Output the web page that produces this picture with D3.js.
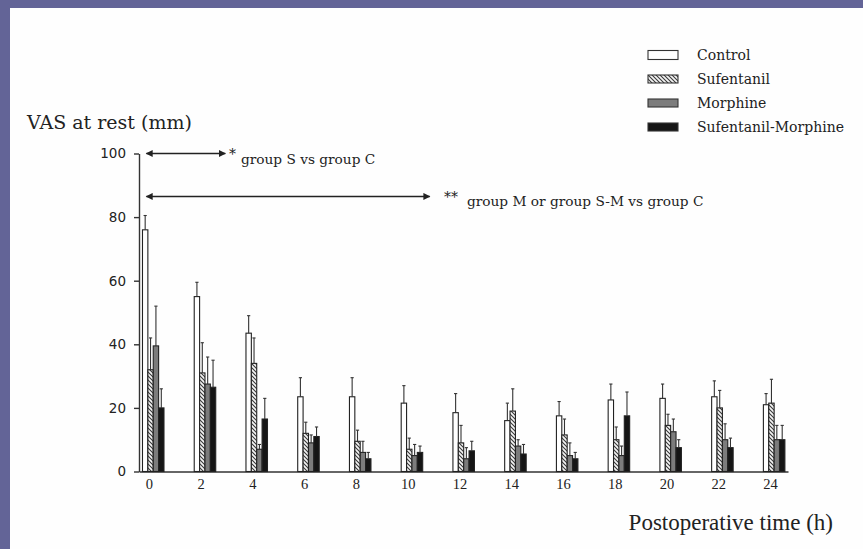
<!DOCTYPE html>
<html>
<head>
<meta charset="utf-8">
<script src="https://cdn.jsdelivr.net/npm/d3@7/dist/d3.min.js"></script>
<style>
  html, body { margin: 0; padding: 0; background: #636497; }
  svg { display: block; }
</style>
</head>
<body>
<svg id="chart" width="863" height="549"></svg>
<script>
// Postoperative hours at which VAS was recorded
const hours = [0, 2, 4, 6, 8, 10, 12, 14, 16, 18, 20, 22, 24];
const tickLabelsY = [0, 20, 40, 60, 80, 100];
const seriesNames = ["Control", "Sufentanil", "Morphine", "Sufentanil-Morphine"];

// Mean VAS at rest (mm) per group
const control    = [76, 55, 43.5, 23.5, 23.5, 21.5, 18.5, 16, 17.5, 22.5, 23, 23.5, 21];
const sufentanil = [32, 31, 34, 12, 9.5, 7, 9, 19, 11.5, 10, 14.5, 20, 21.5];
const morphine   = [39.5, 27.5, 7, 9, 6, 5, 4, 8, 5, 5, 12.5, 10, 10];
const sufMorph   = [20, 26.5, 16.5, 11, 4, 6, 6.5, 5.5, 4, 17.5, 7.5, 7.5, 10];

// Standard deviations (upper whisker only)
const controlSD    = [4.5, 4.5, 5.5, 6, 6, 5.5, 6, 5.5, 4.5, 5, 4.5, 5, 3.5];
const sufentanilSD = [10, 9.5, 8, 3.5, 3.5, 3.5, 5.5, 7, 5, 4, 3.5, 5.5, 7.5];
const morphineSD   = [12.5, 8.5, 1.5, 2.5, 3.5, 3.5, 3.5, 2, 4, 3, 4, 5, 4.5];
const sufMorphSD   = [6, 8.5, 6.5, 3, 2, 2, 3, 3, 2, 7.5, 2.5, 3, 4.5];

const means = [control, sufentanil, morphine, sufMorph];
const sds = [controlSD, sufentanilSD, morphineSD, sufMorphSD];

const rows = [];
hours.forEach((h, i) => {
  seriesNames.forEach((s, k) => {
    rows.push({ hour: h, series: s, k, value: means[k][i], sd: sds[k][i] });
  });
});

const svg = d3.select("#chart");

// white page panel inside the coloured frame
svg.append("rect").attr("x", 10).attr("y", 8).attr("width", 853).attr("height", 541).attr("fill", "#fefefe");

// patterns
const defs = svg.append("defs");
const hatch = defs.append("pattern")
  .attr("id", "hatch").attr("patternUnits", "userSpaceOnUse")
  .attr("width", 4).attr("height", 4);
hatch.append("rect").attr("width", 4).attr("height", 4).attr("fill", "#f4f4f4");
hatch.append("path").attr("d", "M-1,-1 L5,5 M-1,3 L1,5 M3,-1 L5,1")
  .attr("stroke", "#3a3a3a").attr("stroke-width", 1.1);

const fills = {
  "Control": "#ffffff",
  "Sufentanil": "url(#hatch)",
  "Morphine": "#7c7c7c",
  "Sufentanil-Morphine": "#151515"
};

const serif = "'DejaVu Serif', serif";
const timesLike = "'Liberation Serif', 'Times New Roman', serif";

// Scales
const x = d3.scaleLinear().domain([-0.386, 24.7]).range([139, 788]);
const y = d3.scaleLinear().domain([0, 100]).range([471.5, 153.5]);
const inner = d3.scaleBand().domain(seriesNames).range([-6.5, 15]).padding(0);

// Y axis
const yAxis = svg.append("g")
  .attr("transform", "translate(139,0)")
  .call(d3.axisLeft(y).tickValues(tickLabelsY).tickSize(5).tickSizeOuter(0).tickPadding(8));
yAxis.selectAll("path, line").attr("stroke", "#333").attr("stroke-width", 1.4);
yAxis.selectAll("text").attr("font-family", "'DejaVu Sans', sans-serif").attr("font-size", 13.5).attr("fill", "#222");

// X axis
const xAxis = svg.append("g")
  .attr("transform", "translate(0,471.5)")
  .call(d3.axisBottom(x).tickValues(hours).tickSize(0).tickSizeOuter(0).tickPadding(7));
xAxis.selectAll("path").attr("stroke", "#333").attr("stroke-width", 1.4);
xAxis.selectAll("text").attr("font-family", timesLike).attr("font-size", 14.5).attr("fill", "#222");

// Bars
const bars = svg.append("g");
bars.selectAll("rect").data(rows).join("rect")
  .attr("x", d => x(d.hour) + inner(d.series))
  .attr("y", d => y(d.value))
  .attr("width", inner.bandwidth())
  .attr("height", d => y(0) - y(d.value))
  .attr("fill", d => fills[d.series])
  .attr("stroke", "#222").attr("stroke-width", 1.1);

// Error whiskers
const err = svg.append("g").attr("stroke", "#333").attr("stroke-width", 1.1);
err.selectAll("line.v").data(rows).join("line").attr("class", "v")
  .attr("x1", d => x(d.hour) + inner(d.series) + inner.bandwidth() / 2)
  .attr("x2", d => x(d.hour) + inner(d.series) + inner.bandwidth() / 2)
  .attr("y1", d => y(d.value))
  .attr("y2", d => y(d.value + d.sd));
err.selectAll("line.c").data(rows).join("line").attr("class", "c")
  .attr("x1", d => x(d.hour) + inner(d.series) + inner.bandwidth() / 2 - 1.6)
  .attr("x2", d => x(d.hour) + inner(d.series) + inner.bandwidth() / 2 + 1.6)
  .attr("y1", d => y(d.value + d.sd))
  .attr("y2", d => y(d.value + d.sd));

// Significance arrows
const arrowDef = defs.append("marker").attr("id", "arrowEnd")
  .attr("viewBox", "0 0 10 10").attr("refX", 9).attr("refY", 5)
  .attr("markerWidth", 9).attr("markerHeight", 7).attr("markerUnits", "userSpaceOnUse")
  .attr("orient", "auto-start-reverse");
arrowDef.append("path").attr("d", "M0,0 L10,5 L0,10 z").attr("fill", "#222");

function sigArrow(h0, h1, v) {
  svg.append("line")
    .attr("x1", x(h0)).attr("x2", x(h1))
    .attr("y1", y(v)).attr("y2", y(v))
    .attr("stroke", "#222").attr("stroke-width", 1.5)
    .attr("marker-start", "url(#arrowEnd)").attr("marker-end", "url(#arrowEnd)");
}
sigArrow(-0.1, 2.95, 100);
sigArrow(-0.1, 10.85, 86.5);

svg.append("text").attr("x", 229).attr("y", 159).attr("font-family", serif).attr("font-size", 14).attr("fill", "#222").text("*");
svg.append("text").attr("x", 241).attr("y", 164).attr("font-family", serif).attr("font-size", 13.7).attr("fill", "#222").text("group S vs group C");
svg.append("text").attr("x", 444).attr("y", 202).attr("font-family", serif).attr("font-size", 14).attr("fill", "#222").text("**");
svg.append("text").attr("x", 467).attr("y", 206).attr("font-family", serif).attr("font-size", 13.7).attr("fill", "#222").text("group M or group S-M vs group C");

// Axis titles
svg.append("text").attr("x", 27).attr("y", 129).attr("font-family", serif).attr("font-size", 19).attr("fill", "#222").text("VAS at rest (mm)");
svg.append("text").attr("x", 833).attr("y", 530).attr("text-anchor", "end").attr("font-family", timesLike).attr("font-size", 23).attr("fill", "#222").text("Postoperative time (h)");

// Legend
const legend = svg.append("g").attr("transform", "translate(648,55)");
const li = legend.selectAll("g").data(seriesNames).join("g")
  .attr("transform", (d, i) => `translate(0,${i * 24})`);
li.append("rect").attr("x", 0).attr("y", d => d === "Control" ? -4.5 : -4).attr("width", 30)
  .attr("height", d => d === "Control" ? 9 : 8)
  .attr("fill", d => fills[d]).attr("stroke", "#333").attr("stroke-width", 1.1);
li.append("text").attr("x", 49).attr("y", 5).attr("font-family", serif).attr("font-size", 14).attr("fill", "#222").text(d => d);
</script>
</body>
</html>
